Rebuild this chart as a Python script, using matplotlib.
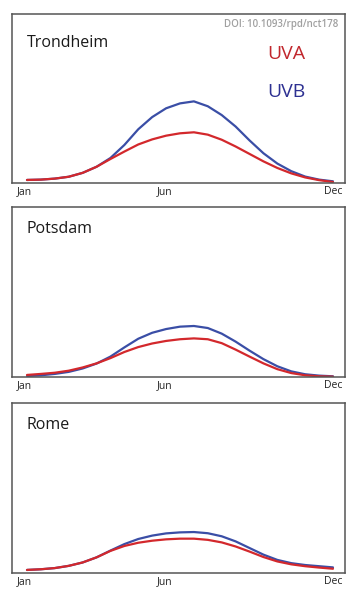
import numpy as np
import matplotlib.pyplot as plt

plt.rcParams['font.family'] = ['Open Sans', 'DejaVu Sans']

# half-month steps, Jan (0) .. Dec (11)
months = np.arange(23) * 0.5
tick_pos = [-0.1, 4.95, 11]
tick_labels = ['Jan', 'Jun', 'Dec']
cities = ['Trondheim', 'Potsdam', 'Rome']

# relative irradiance (same scale in every panel)
uvb_trondheim = [1.8, 2.0, 2.6, 3.7, 6.0, 9.6, 14.8, 22.5, 31.8, 39.0, 44.2, 47.1,
                 48.3, 45.4, 40.2, 33.4, 25.2, 17.6, 11.5, 7.0, 3.8, 2.0, 1.0]
uva_trondheim = [1.8, 2.0, 2.6, 3.7, 6.0, 9.6, 14.2, 18.6, 22.8, 25.8, 28.0, 29.4,
                 30.0, 28.6, 25.6, 21.6, 17.2, 12.8, 8.9, 5.7, 3.3, 1.7, 0.6]
uvb_potsdam = [0.6, 1.0, 1.8, 3.0, 5.0, 7.9, 12.0, 17.4, 22.5, 26.0, 28.2, 29.6,
               30.0, 28.8, 25.5, 20.8, 15.5, 10.5, 6.3, 3.3, 1.6, 0.8, 0.4]
uva_potsdam = [1.2, 1.8, 2.5, 3.7, 5.6, 8.0, 11.1, 14.7, 17.6, 19.7, 21.2, 22.2,
               22.7, 22.2, 19.9, 16.1, 12.0, 8.0, 4.6, 2.3, 1.0, 0.4, 0.2]
uvb_rome = [1.8, 2.2, 2.9, 4.2, 6.2, 9.2, 13.2, 17.0, 20.0, 22.0, 23.3, 23.9,
            24.1, 23.4, 21.6, 18.6, 14.7, 10.8, 7.7, 5.8, 4.7, 4.0, 3.3]
uva_rome = [1.8, 2.2, 2.9, 4.2, 6.2, 9.2, 13.0, 15.9, 17.8, 19.0, 19.8, 20.2,
            20.2, 19.5, 18.0, 15.6, 12.6, 9.4, 6.8, 5.1, 4.0, 3.2, 2.5]

uva = [uva_trondheim, uva_potsdam, uva_rome]
uvb = [uvb_trondheim, uvb_potsdam, uvb_rome]

red = '#d3282c'
blue = '#3a4ea6'

fig = plt.figure(figsize=(3.58, 6.0), dpi=100)
fig.patch.set_facecolor('white')

boxes = [(0.0335, 0.695, 0.930, 0.2817),
         (0.0335, 0.3717, 0.930, 0.2833),
         (0.0335, 0.045, 0.930, 0.2833)]

for i, box in enumerate(boxes):
    ax = fig.add_axes(box)
    ax.plot(months, uvb[i], color=blue, lw=1.6, solid_capstyle='round',
            solid_joinstyle='round')
    ax.plot(months, uva[i], color=red, lw=1.6, solid_capstyle='round',
            solid_joinstyle='round')
    ax.set_xlim(-0.54, 11.43)
    ax.set_ylim(0, 100)
    ax.set_yticks([])
    ax.set_xticks(tick_pos)
    ax.set_xticklabels(tick_labels, fontsize=7.5, color='#222222')
    ax.tick_params(axis='x', length=0, pad=2.5)
    for s in ax.spines.values():
        s.set_color('#555555')
        s.set_linewidth(1.1)
    ax.text(0.045, 0.83 if i == 0 else 0.87, cities[i], transform=ax.transAxes,
            fontsize=11.5, color='#1a1a1a', va='center', ha='left')
    if i == 0:
        ax.text(0.98, 0.94, 'DOI: 10.1093/rpd/nct178', transform=ax.transAxes,
                fontsize=7, color='#a0a0a0', ha='right', va='center',
                fontweight='semibold')
        ax.text(0.825, 0.765, 'UVA', transform=ax.transAxes, fontsize=14,
                color='#c1272d', ha='center', va='center')
        ax.text(0.825, 0.54, 'UVB', transform=ax.transAxes, fontsize=14,
                color='#2e3192', ha='center', va='center')

fig.savefig('out.png', dpi=100, facecolor='white')
